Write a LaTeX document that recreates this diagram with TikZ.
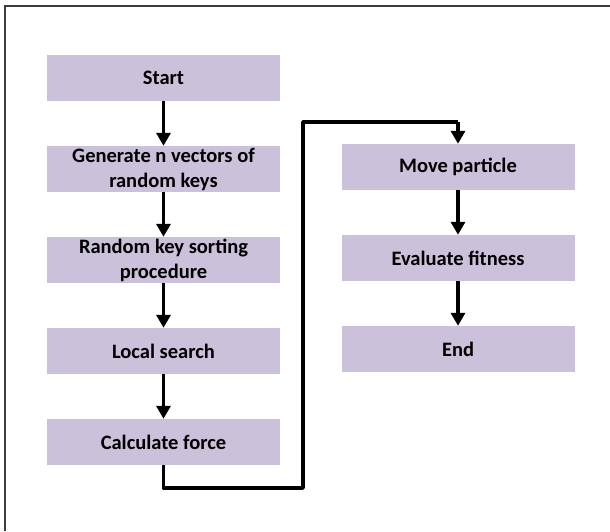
\documentclass[tikz,border=0pt]{standalone}
\usepackage{fontspec}
\setmainfont{Carlito}
\usetikzlibrary{arrows.meta}
\definecolor{boxfill}{RGB}{204,193,218}
\definecolor{framegray}{RGB}{60,60,60}
\begin{document}
\begin{tikzpicture}[x=1pt,y=-1pt,
  stepbox/.style={fill=boxfill,draw=none,minimum width=233pt,minimum height=46pt,
    inner sep=0pt,align=center,font=\fontsize{20.5}{25}\selectfont\bfseries},
  flow/.style={line width=3.5pt,-{Triangle[length=13pt,width=14pt]}},
  link/.style={line width=3.5pt,line join=round}]
\useasboundingbox (0,0) rectangle (610,531);
% page frame (top and left edges)
\draw[framegray,line width=2pt] (4.5,531) -- (4.5,5.5) -- (610,5.5);
% left column
\node[stepbox] (start) at (163.5,78) {Start};
\node[stepbox] (gen) at (163.5,169) {Generate n vectors of\\random keys};
\node[stepbox] (sort) at (163.5,260) {Random key sorting\\procedure};
\node[stepbox] (local) at (163.5,351) {Local search};
\node[stepbox] (force) at (163.5,442) {Calculate force};
% right column
\node[stepbox] (move) at (458,167) {Move particle};
\node[stepbox] (eval) at (458,258) {Evaluate fitness};
\node[stepbox] (end) at (458,349) {End};
% connectors
\draw[flow] (start) -- (gen);
\draw[flow] (gen) -- (sort);
\draw[flow] (sort) -- (local);
\draw[flow] (local) -- (force);
\coordinate (c1) at (163.5,488);
\coordinate (c2) at (303,488);
\coordinate (c3) at (303,122);
\coordinate (c4) at (458,122);
\draw[link] (force.south) -- (c1) -- (c2) -- (c3) -- (c4);
\draw[flow] (c4) -- (move);
\draw[flow] (move) -- (eval);
\draw[flow] (eval) -- (end);
\end{tikzpicture}
\end{document}
